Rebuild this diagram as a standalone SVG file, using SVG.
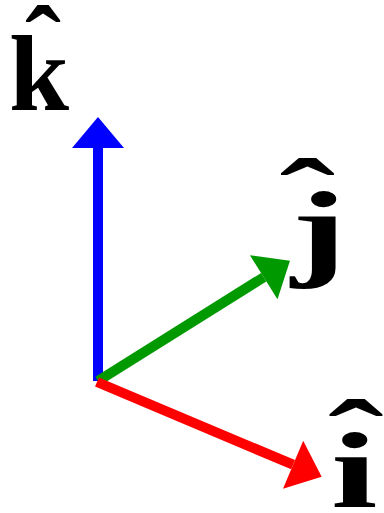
<svg xmlns="http://www.w3.org/2000/svg" width="384" height="513" viewBox="0 0 384 513">
<style>
.lbl{font-family:"Liberation Serif","Times New Roman",serif;font-weight:bold;font-size:108px;fill:#000}
.ax{stroke-width:10;fill:none}
</style>
<defs>
<marker id="hb" markerUnits="userSpaceOnUse" markerWidth="32" markerHeight="52" refX="0" refY="26" orient="auto" overflow="visible"><path d="M0,0 L31,26 L0,52 Z" fill="#0000ff"/></marker>
<marker id="hg" markerUnits="userSpaceOnUse" markerWidth="32" markerHeight="52" refX="0" refY="26" orient="auto" overflow="visible"><path d="M0,0 L31,26 L0,52 Z" fill="#009900"/></marker>
<marker id="hr" markerUnits="userSpaceOnUse" markerWidth="32" markerHeight="52" refX="0" refY="26" orient="auto" overflow="visible"><path d="M0,0 L31,26 L0,52 Z" fill="#ff0000"/></marker>
</defs>
<g id="connectors">
<line class="ax" x1="98" y1="381" x2="98" y2="148" stroke="#0000ff" marker-end="url(#hb)"/>
<line class="ax" x1="98" y1="381" x2="263.7" y2="277.2" stroke="#009900" marker-end="url(#hg)"/>
<line class="ax" x1="97" y1="382" x2="293.1" y2="464.7" stroke="#ff0000" marker-end="url(#hr)"/>
</g>
<g id="k-label">
<text class="lbl" x="9" y="110">k</text>
<text class="lbl" x="25" y="81">ˆ</text>
</g>
<g id="j-label" transform="translate(291,0) scale(1.55,1)">
<text class="lbl" x="0" y="266">j</text>
<text class="lbl" x="-7.4" y="234">ˆ</text>
</g>
<g id="i-label" transform="translate(331,0) scale(1.55,1)">
<text class="lbl" x="0" y="507">i</text>
<text class="lbl" x="-1.9" y="475">ˆ</text>
</g>
</svg>
